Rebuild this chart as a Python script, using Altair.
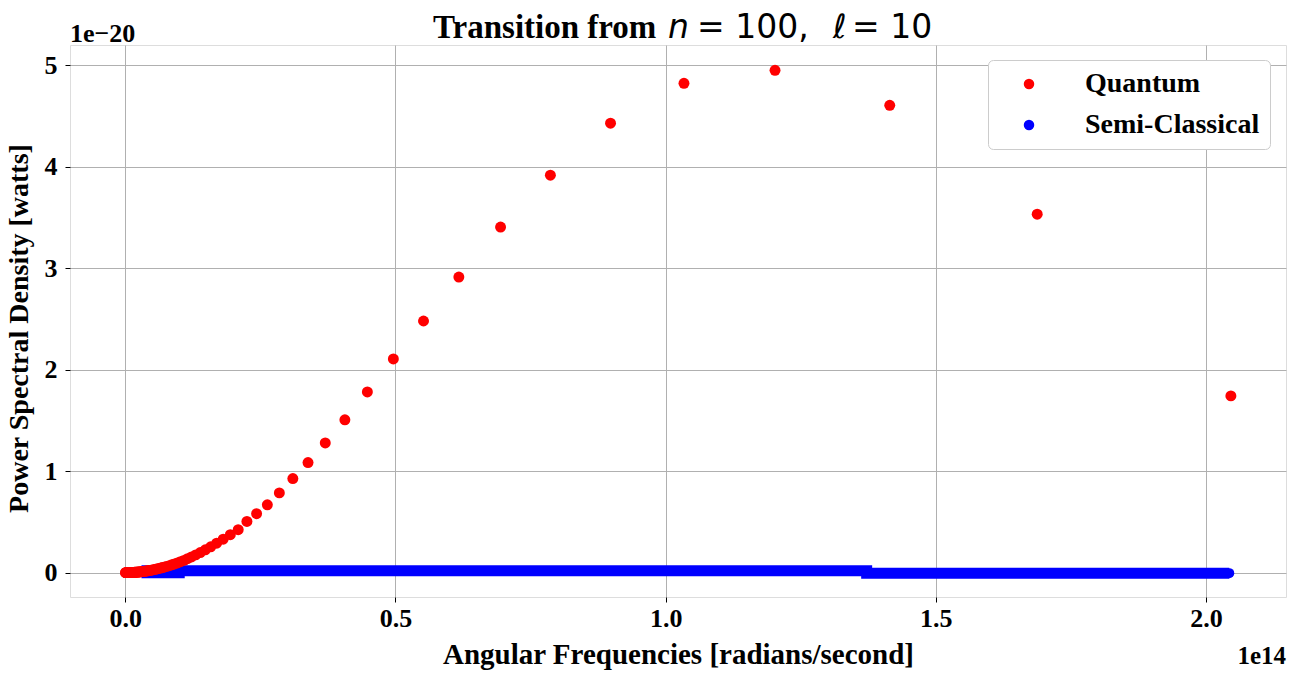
import altair as alt
import pandas as pd

# ---- data (x in units of 1e14 rad/s, y in units of 1e-20 W) ----
quantum_freq = [
    2.046, 1.6876, 1.4147, 1.2024, 1.0339, 0.8980, 0.7867, 0.6945, 0.6173, 0.5519,
    0.4961, 0.4480, 0.4064, 0.3701, 0.3382, 0.3101, 0.2851, 0.2629, 0.2430, 0.2251,
    0.2090, 0.1944, 0.1812, 0.1691, 0.1581, 0.1481, 0.1388, 0.1303, 0.1225, 0.1152,
    0.1085, 0.1023, 0.0965, 0.0911, 0.0861, 0.0814, 0.0770, 0.0729, 0.0690, 0.0654,
    0.0620, 0.0588, 0.0558, 0.0529, 0.0502, 0.0477, 0.0452, 0.0430, 0.0408, 0.0387,
    0.0367, 0.0349, 0.0331, 0.0314, 0.0298, 0.0283, 0.0268, 0.0254, 0.0240, 0.0227,
    0.0215, 0.0203, 0.0192, 0.0181, 0.0171, 0.0161, 0.0151, 0.0142, 0.0133, 0.0124,
    0.0116, 0.0108, 0.0101, 0.0093, 0.0086, 0.0079, 0.0073, 0.0066, 0.0060, 0.0054,
    0.0049, 0.0043, 0.0037, 0.0032, 0.0027, 0.0022, 0.0018, 0.0013, 0.00085, 0.00042,
]
quantum_psd = [
    1.742, 3.533, 4.606, 4.951, 4.823, 4.429, 3.917, 3.406, 2.913, 2.480,
    2.106, 1.781, 1.506, 1.278, 1.085, 0.927, 0.786, 0.669, 0.581, 0.505,
    0.423, 0.374, 0.33, 0.29, 0.255, 0.225, 0.198, 0.175, 0.155, 0.137,
    0.121, 0.108, 0.096, 0.086, 0.077, 0.069, 0.062, 0.056, 0.050, 0.045,
    0.041, 0.037, 0.033, 0.030, 0.027, 0.024, 0.022, 0.020, 0.018, 0.016,
    0.0145, 0.013, 0.012, 0.011, 0.0095, 0.0085, 0.0077, 0.0069, 0.0062, 0.0055,
    0.005, 0.0044, 0.0039, 0.0035, 0.003, 0.0027, 0.0023, 0.002, 0.0018, 0.0015,
    0.0013, 0.0011, 0.001, 0.0008, 0.0007, 0.0006, 0.0005, 0.0004, 0.0003, 0.00025,
    0.0002, 0.00015, 0.0001, 0.00008, 0.00005, 0.00004, 0.00002, 0.00001, 0.000005, 0.000002,
]

# semi-classical spectrum: a dense comb of points along zero, read as segments
semi_freq = [0.03, 1.372, 1.372, 2.043, 0.03, 0.11]
semi_psd = [0.018, 0.018, -0.005, -0.005, 0.0, 0.0]
semi_seg = ["a", "a", "a", "a", "b", "b"]
semi_end_freq = [2.043]
semi_end_psd = [-0.005]

x_ticks = [0.0, 0.5, 1.0, 1.5, 2.0]
y_ticks = [0, 1, 2, 3, 4, 5]
series_names = ["Quantum", "Semi-Classical"]
series_colors = ["#ff0000", "#0000ff"]

SERIF = "Liberation Serif"
MATH = "DejaVu Sans"

q_df = pd.DataFrame({"freq": quantum_freq, "psd": quantum_psd, "series": "Quantum"})
s_df = pd.DataFrame({"freq": semi_freq, "psd": semi_psd, "seg": semi_seg})
e_df = pd.DataFrame({"freq": semi_end_freq, "psd": semi_end_psd, "series": "Semi-Classical"})

xscale = alt.Scale(domain=[-0.1023, 2.148], nice=False, zero=False)
yscale = alt.Scale(domain=[-0.24, 5.2], nice=False, zero=False)

xenc = alt.X("freq:Q", scale=xscale, axis=alt.Axis(
    values=x_ticks, format=".1f", title="Angular Frequencies [radians/second]",
    grid=True, gridColor="#b0b0b0", gridWidth=1,
    domain=False, tickColor="#000000", tickSize=5, tickWidth=1,
    labelFont=SERIF, labelFontSize=26, labelFontWeight="bold", labelColor="#000",
    labelPadding=3, titleFont=SERIF, titleFontSize=29, titleFontWeight="bold",
    titleColor="#000", titlePadding=9))
yenc = alt.Y("psd:Q", scale=yscale, axis=alt.Axis(
    values=y_ticks, format="d", title="Power Spectral Density [watts]",
    grid=True, gridColor="#b0b0b0", gridWidth=1,
    domain=False, tickColor="#000000", tickSize=5, tickWidth=1,
    labelFont=SERIF, labelFontSize=26, labelFontWeight="bold", labelColor="#000",
    labelPadding=8, titleFont=SERIF, titleFontSize=28, titleFontWeight="bold",
    titleColor="#000", titlePadding=11, titleY=283))

color = alt.Color("series:N", scale=alt.Scale(domain=series_names, range=series_colors),
                  legend=alt.Legend(
                      title=None, orient="none", legendX=918, legendY=15,
                      symbolType="circle", symbolSize=110, symbolStrokeWidth=0,
                      labelFont=SERIF, labelFontSize=28, labelFontWeight="bold",
                      labelColor="#000", labelOffset=42, symbolOffset=17,
                      labelLimit=400,
                      rowPadding=13, padding=10, strokeColor="#cccccc",
                      fillColor="#ffffff", cornerRadius=5))

semi_line = alt.Chart(s_df).mark_line(color="#0000ff", strokeWidth=11, strokeCap="butt").encode(
    x=xenc, y=yenc, detail="seg:N")
semi_end = alt.Chart(e_df).mark_circle(size=100, opacity=1).encode(
    x="freq:Q", y="psd:Q", color=color)
quantum = alt.Chart(q_df).mark_circle(size=120, opacity=1).encode(
    x="freq:Q", y="psd:Q", color=color)

def txt(s, x, y, font, size, weight="normal", style="normal", align="left"):
    return alt.Chart(pd.DataFrame({"t": [s]})).mark_text(
        font=font, fontSize=size, fontWeight=weight, fontStyle=style,
        align=align, baseline="alphabetic", color="#000").encode(
        text="t:N", x=alt.value(x), y=alt.value(y))

title_parts = [
    txt("Transition from", 363, -7, SERIF, 33, weight="bold"),
    txt("n", 598, -7, MATH, 33, style="italic"),
    txt("= 100,", 627, -7, MATH, 33),
    txt("ℓ", 763, -7, MATH, 33, style="italic"),
    txt("= 10", 782, -7, MATH, 33),
]
offset_y = txt("1e−20", 0, -3, SERIF, 26, weight="bold")
offset_x = txt("1e14", 1216, 619, SERIF, 25, weight="bold", align="right")

chart = alt.layer(semi_line, semi_end, quantum, *title_parts, offset_y, offset_x).properties(
    width=1216, height=552,
    padding={"left": 70, "top": 45, "right": 15, "bottom": 76},
    autosize=alt.AutoSizeParams(type="none"),
).configure_view(stroke="#000000", strokeWidth=1).configure(background="#ffffff")

chart.save("out.html", embed_options={"renderer": "svg", "actions": False})
